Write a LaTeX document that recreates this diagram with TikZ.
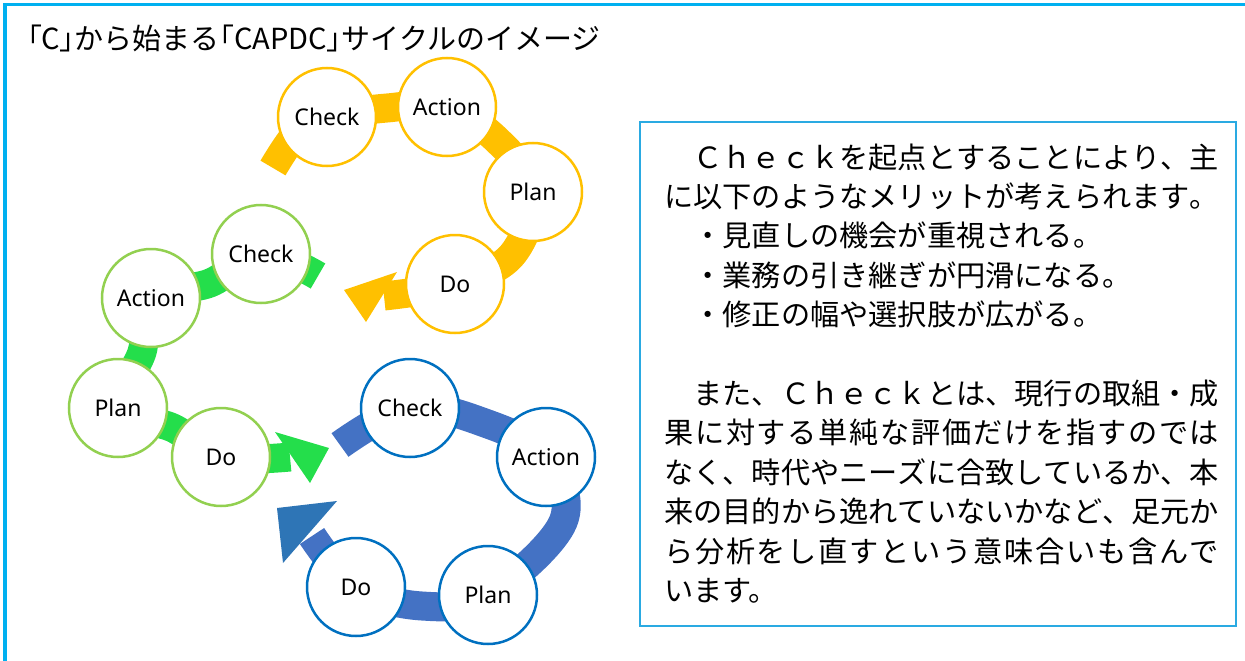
\documentclass[tikz,border=0pt]{standalone}
\usepackage{fontspec}
\newfontfamily\jpfont{Noto Sans CJK JP}
\newfontfamily\jppfont[RawFeature=+palt]{Noto Sans CJK JP}
\newfontfamily\latfont{Noto Sans}
\definecolor{frameblue}{HTML}{00B0F0}
\definecolor{boxblue}{HTML}{2AAAE2}
\definecolor{yel}{HTML}{FFC000}
\definecolor{grn}{HTML}{24DE4B}
\definecolor{grnline}{HTML}{92D050}
\definecolor{blu}{HTML}{4472C4}
\definecolor{bluline}{HTML}{0070C0}
\definecolor{bluhead}{HTML}{2E75B6}
\def\sprA#1{#1\sprB}
\def\sprB#1{\ifx#1\relax\else\hfil#1\expandafter\sprB\fi}
\newcommand\jline[1]{\makebox[555pt][s]{\sprA#1\relax}}
\newcommand\pbr[1]{{\jppfont#1}}
\tikzset{
  circ/.style={circle, minimum size=98pt, inner sep=0pt, line width=2.5pt, fill=white, font=\latfont\fontsize{23}{25}\selectfont},
  ycirc/.style={circ, draw=yel},
  gcirc/.style={circ, draw=grnline},
  bcirc/.style={circ, draw=bluline},
  band/.style={line width=29pt, line cap=butt, line join=round},
  txt/.style={anchor=base west, inner sep=0pt, font=\jpfont\fontsize{29.2}{39}\selectfont},
}
\begin{document}
\begin{tikzpicture}[x=1pt,y=-1pt]
\useasboundingbox (0,0) rectangle (1245,661);
% outer frame
\draw[frameblue, line width=3.6pt] (5,661) -- (5,4.5) -- (1245,4.5);
% title
\node[anchor=base west, inner sep=0pt, font=\jpfont\fontsize{29}{31}\selectfont] (title) at (27,49) {\pbr{「}C\pbr{」}から始まる\pbr{「}CAPDC\pbr{」}サイクルのイメージ};

% ---------- yellow cycle ----------
\coordinate (yt) at (273,168);
\coordinate (y1) at (298,132);
\coordinate (yCc) at (327,117);
\coordinate (y2) at (387,108);
\coordinate (yAc) at (447,107);
\coordinate (y3) at (500,143);
\coordinate (yPc) at (533,192);
\coordinate (y4) at (512,255);
\coordinate (yDc) at (455,284);
\coordinate (yb) at (384,296);
\coordinate (yh1) at (344,290);
\coordinate (yh2) at (397,272);
\coordinate (yh3) at (366,322);
\draw[band, yel] plot[smooth, tension=0.6] coordinates {(yt) (y1) (yCc) (y2) (yAc) (y3) (yPc) (y4) (yDc) (yb)};
\fill[yel] (yh1) -- (yh2) -- (yh3) -- cycle;
\node[ycirc] (yC) at (yCc) {Check};
\node[ycirc] (yA) at (yAc) {Action};
\node[ycirc] (yP) at (yPc) {Plan};
\node[ycirc] (yD) at (yDc) {Do};

% ---------- green cycle ----------
\coordinate (gt) at (318,276);
\coordinate (gCc) at (261,254);
\coordinate (g1) at (210,283);
\coordinate (gAc) at (151,298);
\coordinate (g2) at (142,352);
\coordinate (gPc) at (118,408);
\coordinate (g3) at (173,428);
\coordinate (gDc) at (221,457);
\coordinate (gb) at (290,457);
\coordinate (gh1) at (329,448);
\coordinate (gh2) at (275,432);
\coordinate (gh3) at (310,483);
\draw[band, grn] plot[smooth, tension=0.6] coordinates {(gt) (gCc) (g1) (gAc) (g2) (gPc) (g3) (gDc) (gb)};
\fill[grn] (gh1) -- (gh2) -- (gh3) -- cycle;
\node[gcirc] (gC) at (gCc) {Check};
\node[gcirc] (gA) at (gAc) {Action};
\node[gcirc] (gP) at (gPc) {Plan};
\node[gcirc] (gD) at (gDc) {Do};

% ---------- blue cycle ----------
\coordinate (bt) at (340,445);
\coordinate (bCc) at (410,408);
\coordinate (b1) at (485,423);
\coordinate (bAc) at (546,457);
\coordinate (b2) at (563,522);
\coordinate (bPc) at (488,595);
\coordinate (b3) at (422,606);
\coordinate (bDc) at (356,587);
\coordinate (bb) at (312,536);
\coordinate (bh1) at (277,508);
\coordinate (bh2) at (337,501);
\coordinate (bh3) at (283,563);
\draw[band, blu] plot[smooth, tension=0.6] coordinates {(bt) (bCc) (b1) (bAc) (b2) (bPc) (b3) (bDc) (bb)};
\fill[bluhead] (bh1) -- (bh2) -- (bh3) -- cycle;
\node[bcirc] (bC) at (bCc) {Check};
\node[bcirc] (bA) at (bAc) {Action};
\node[bcirc] (bP) at (bPc) {Plan};
\node[bcirc] (bD) at (bDc) {Do};

% ---------- text box ----------
\draw[boxblue, line width=1.6pt] (640,122) rectangle (1236,626);
\node[txt] (t1) at (664,168) {\jline{　Ｃｈｅｃｋを起点とすることにより、主}};
\node[txt] (t2) at (664,207.4) {\jline{に以下のようなメリットが考えられます。}};
\node[txt] (t3) at (664,246.8) {　・見直しの機会が重視される。};
\node[txt] (t4) at (664,286.2) {　・業務の引き継ぎが円滑になる。};
\node[txt] (t5) at (664,325.6) {　・修正の幅や選択肢が広がる。};
\node[txt] (t6) at (664,404.4) {\jline{　また、Ｃｈｅｃｋとは、現行の取組・成}};
\node[txt] (t7) at (664,443.8) {\jline{果に対する単純な評価だけを指すのでは}};
\node[txt] (t8) at (664,483.2) {\jline{なく、時代やニーズに合致しているか、本}};
\node[txt] (t9) at (664,522.6) {\jline{来の目的から逸れていないかなど、足元か}};
\node[txt] (t10) at (664,562) {\jline{ら分析をし直すという意味合いも含んで}};
\node[txt] (t11) at (664,601.4) {います。};
\end{tikzpicture}
\end{document}
